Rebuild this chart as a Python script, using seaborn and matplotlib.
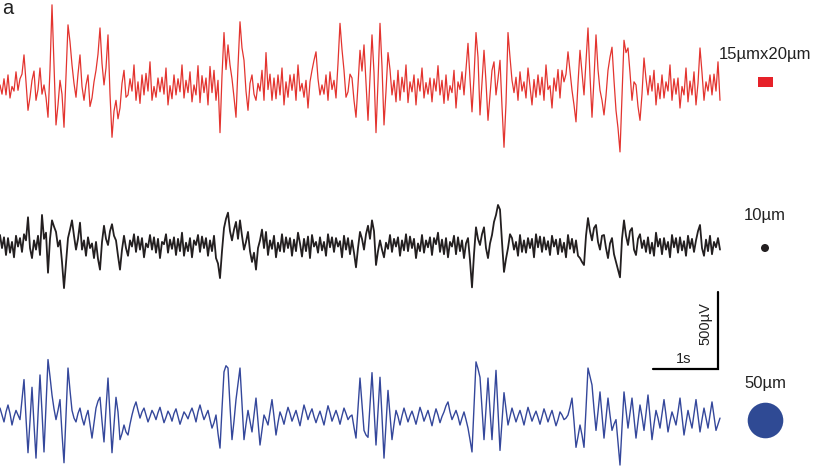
import numpy as np
import matplotlib
matplotlib.use("Agg")
import matplotlib.pyplot as plt
from matplotlib.patches import Rectangle, Circle
import seaborn as sns

sns.set_style("white")
plt.rcParams["font.family"] = ["Liberation Sans", "DejaVu Sans"]

# sampled traces (uV), one sample every ~31 ms
dt = 2 / 65

red_uv = [20, -40, 60, -45, 85, -65, 10, -20, 105, -15, 60, 90, 215, 40, -145, -60,
          50, 110, -80, -10, 130, -40, 20, -60, -190, 120, 540, 150, -240, -110, 50, -40,
          -255, 80, 410, 300, 150, 30, -60, 90, 215, 10, -80, 20, 85, -120, -65, 40,
          115, 220, 390, 160, 20, 130, 345, -40, -320, -150, -80, -200, -130, 30, 115, -60,
          -45, 60, -20, 150, -80, 40, -100, 85, -45, 95, -20, 170, -80, 10, -60, 65,
          -25, 70, -40, 130, -110, 15, -70, 85, -45, 60, -25, 150, -65, 50, -30, 105,
          -90, 20, -45, 145, -95, 80, -30, 65, -110, 140, -30, 115, -80, 50, -290, 80,
          360, 120, 280, 150, 60, -60, -190, 140, 430, 260, 180, -20, -145, 30, 85, -40,
          -80, 30, -20, 115, -80, 230, -10, 90, -80, 65, -70, 85, -45, 130, -110, 40,
          -60, 85, -15, 90, -80, 150, -20, 30, -60, 50, -130, 40, 115, 180, 235, 60,
          -45, 20, -40, 85, -80, 105, -10, 50, -65, 160, 420, 250, 115, -60, -25, 90,
          65, -80, -190, 20, 245, 110, 280, 40, -210, 60, 345, 100, -290, 40, 420, 140,
          -240, -20, 230, 120, -45, 50, -90, 115, -80, 70, -25, 150, -95, 40, -25, 85,
          -110, 60, -20, 130, -65, 35, -40, 65, -90, 60, -20, 145, -45, 50, -100, 85,
          -80, 15, -30, 115, -130, 40, -10, 105, -45, 120, 290, 60, -155, 70, 360, 200,
          -175, 30, 245, 40, -210, -50, 115, 170, -45, 60, 180, -120, -385, -100, 360, 200,
          50, -30, 70, -80, 105, -20, 40, -65, 130, 10, -110, 55, -60, 85, -45, 70,
          -80, 150, -10, 15, -130, 65, -20, 120, -65, 115, 40, 90, 235, 110, -15, -110,
          -220, 30, 245, 100, -45, 170, 390, 80, -190, 60, 345, 120, -15, -80, -175, -50,
          115, 200, 265, 50, -145, -260, -415, -60, 310, 230, 260, 100, -80, 40, 20, -120,
          -210, -40, 195, 60, -45, 80, -20, 115, -110, 30, -70, 85, -65, 40, -20, 150,
          -80, 60, -40, 65, -130, 10, -45, 130, -90, 45, -45, 105, -110, 30, 260, 100,
          -80, 40, -20, 85, -45, 90, -20, 170, -80]

black_uv = [65, -20, 50, -65, 45, -50, 20, -80, 60, -10, 45, -45, 70, 30, 180, -20,
            -85, 30, -30, 60, -65, 195, 40, 80, -180, 40, 160, 120, 85, -10, 30, -110,
            -280, -120, 45, 100, 160, 60, -30, 40, 145, -30, 30, -70, 50, -20, 10, -85,
            20, -90, -160, 20, 125, 40, 0, 90, 135, 60, 30, -70, -160, -30, 60, -20,
            -70, 30, -10, 70, -45, 55, -30, 45, -80, 10, -15, 65, -30, 50, -50, 40,
            -85, 20, 5, 70, -50, 35, -25, 50, -65, 40, -40, 80, -70, 15, -40, 45,
            -80, 30, 0, 65, -45, 55, -20, 45, -70, 30, -40, 60, -85, -120, -215, -40,
            110, 170, 210, 90, 30, 100, 150, 40, 160, 60, -30, 20, 85, -40, -110, -50,
            -160, -20, 30, 100, -20, 85, -65, 30, -25, 60, -80, 15, -40, 70, -45, 50,
            -20, 45, -70, 35, -40, 80, 10, -75, 40, -40, 55, -85, 65, -10, 20, -50,
            50, -35, 20, -70, 70, -15, 50, -45, 45, -10, 25, -80, 60, -30, 45, -60,
            30, -50, -145, -20, 85, 40, -30, 70, 125, 40, 160, 90, -130, -40, 30, -30,
            -80, 15, -25, 65, -45, 40, -10, 50, -70, 30, -35, 70, -40, 55, -20, 40,
            -85, 10, -40, 65, -50, 30, -15, 50, -65, 45, 5, 80, -45, 35, -60, 45,
            -80, 20, -10, 60, -60, 50, -40, 30, -85, 10, 45, -100, -275, -60, 115, 40,
            0, 70, 115, -20, -85, 10, 65, 150, 195, 260, 230, 20, -175, -90, -20, 70,
            45, -30, 20, -70, 65, -45, 30, -50, 45, -20, 40, -80, 70, -15, 55, -45,
            50, -30, 25, -65, 60, -10, 35, -60, 40, -45, 15, -80, 65, -25, 40, -50,
            30, -70, -85, -110, -130, 60, 175, 90, 30, 110, 130, 20, -30, 60, 65, -20,
            -85, 10, 45, -60, -110, -160, -210, 40, 160, 60, 0, 90, 110, -30, -65, 40,
            70, -20, 30, -45, 50, -55, 15, -70, 80, -10, 40, -60, 45, -30, 20, -80,
            65, -15, 45, -50, 50, -35, 25, -70, 60, -20, 40, -45, 30, 90, 130, -20,
            -70, 35, -40, 60, -60, 20, -15, 45, -30]

blue_uv = [45, 0, -45, 20, 65, 10, -65, -10, 30, 0, -30, 100, 230, -20, -245, -40,
           180, -60, -280, 0, 260, 20, -240, 60, 360, 250, 130, 40, -30, 30, 100, -120,
           -310, 0, 305, 160, 30, -20, -45, 10, 45, -20, -65, -10, 30, -60, -150, -50,
           45, 90, 115, -40, -175, 40, 240, 0, -245, -60, 115, 20, -160, -120, -65, -110,
           -130, -60, 0, 50, 85, 30, -20, 20, 45, 0, -45, -10, 30, 5, -30, 15,
           50, 0, -50, -15, 25, 0, -40, 10, 40, -10, -60, -20, 20, 0, -25, 15,
           45, 5, -45, 20, 65, 15, -30, 0, 30, -30, -85, -50, 0, -120, -215, 40,
           280, 320, 305, 60, -160, -40, 100, 200, 305, 70, -160, -60, 30, -40, -110, 0,
           110, -40, -195, -100, 0, -30, -65, 20, 100, -10, -130, -50, 20, -15, -60, 0,
           50, 10, -40, -5, 30, -20, -70, 0, 65, 20, -30, 10, 40, -10, -50, -10,
           25, -20, -65, 0, 60, 15, -40, -5, 30, -10, -60, -5, 45, 10, -30, -10,
           0, -80, -150, 40, 240, 70, -100, -130, -145, 60, 275, 40, -195, 20, 245, -10,
           -280, -60, 160, 0, -160, -60, 30, -10, -65, -5, 45, 0, -45, -5, 25, -15,
           -60, -5, 50, 10, -40, -5, 30, -20, -70, -10, 40, 0, -50, -10, 20, 60,
           85, 20, -30, 0, 30, -10, -65, -20, 20, -30, -85, -160, -240, 60, 345, 300,
           245, 40, -160, 40, 240, 30, -160, 60, 290, 30, -230, -40, 145, 40, -65, -10,
           45, 0, -45, -5, 30, -15, -65, -5, 50, 5, -40, -5, 25, -15, -60, -10,
           40, 0, -45, -5, 30, -20, -70, -30, 20, 0, -30, -20, 0, 50, 110, -40,
           -210, -140, -65, -130, -210, 40, 305, 250, 195, 40, -100, 20, 150, 0, -150, -20,
           110, 0, -100, -60, -30, -180, -325, -80, 150, 30, -85, 10, 110, -20, -150, -40,
           65, -10, -100, 10, 130, -10, -160, -60, 30, -20, -85, 10, 100, 0, -110, -40,
           20, -20, -65, 20, 110, -10, -130, -50, 30, -30, -85, 5, 100, -5, -110, -30,
           45, -20, -85, 0, 85, -10, -100, -60, -20]

labels = ["15µmx20µm", "10µm", "50µm"]
colors = ["#e3342f", "#231f20", "#34479b"]
widths = [0.9, 1.3, 1.0]

# layout: 65 px per second, 77 px per 500 uV
px_per_s = 65
uv_per_px = 500 / 77
W, H = 830, 476
baselines_px = [88, 245, 415]

fig = plt.figure(figsize=(W / 100, H / 100), dpi=100)
ax = fig.add_axes([0, 0, 1, 1])
ax.set_xlim(0, W / px_per_s)
ax.set_ylim(-H * uv_per_px, 0)
ax.axis("off")

for vals, col, lw, base in zip([red_uv, black_uv, blue_uv], colors, widths, baselines_px):
    v = np.array(vals, dtype=float)
    t = np.arange(len(v)) * dt
    sns.lineplot(x=t, y=v - base * uv_per_px, ax=ax, color=col, lw=lw,
                 estimator=None, sort=False)

# scale bar: 1 s x 500 uV
bar_x = 718 / px_per_s
bar_y = -369 * uv_per_px
ax.plot([bar_x - 1, bar_x, bar_x], [bar_y, bar_y, bar_y + 500], color="black", lw=1.6,
        solid_joinstyle="miter")

# overlay in pixel units for annotations
ov = fig.add_axes([0, 0, 1, 1])
ov.set_xlim(0, W)
ov.set_ylim(H, 0)
ov.axis("off")
ov.patch.set_alpha(0)

ov.text(684, 363, "1s", ha="center", va="baseline", fontsize=10.5, color="#222222")
ov.text(705, 324, "500µV", ha="center", va="center", rotation=90, fontsize=10.5,
        color="#222222")
ov.text(2, 14, "a", ha="left", va="baseline", fontsize=14.5, color="#222222")

ov.text(765, 59, labels[0], ha="center", va="baseline", fontsize=12, color="#222222")
ov.add_patch(Rectangle((758, 77), 15, 10, color="#e62129", lw=0))
ov.text(765, 220, labels[1], ha="center", va="baseline", fontsize=12, color="#222222")
ov.add_patch(Circle((765, 248), 4, color="#231f20", lw=0))
ov.text(765, 388, labels[2], ha="center", va="baseline", fontsize=12, color="#222222")
ov.add_patch(Circle((765.5, 420.5), 17.8, color="#2f4a94", lw=0))

fig.savefig("out.png", dpi=100)
